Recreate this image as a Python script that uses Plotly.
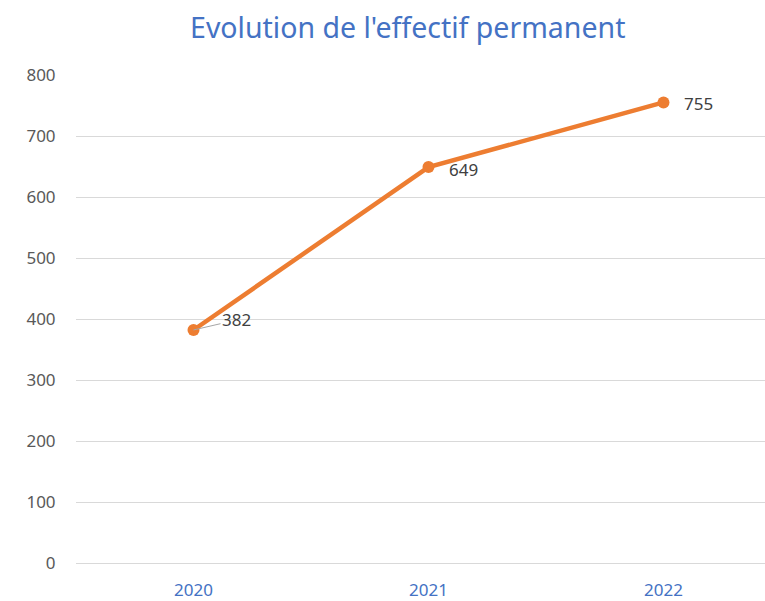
import plotly.graph_objects as go

years = ["2020", "2021", "2022"]
effectif = [382, 649, 755]
label_yshift = [10, -2, -1]

ORANGE = "#ED7D31"
BLUE = "#4472C4"
GREY_TXT = "#595959"
GRID = "#D9D9D9"

fig = go.Figure()

fig.add_trace(go.Scatter(
    x=years,
    y=effectif,
    mode="lines+markers",
    line=dict(color=ORANGE, width=4.5),
    marker=dict(color=ORANGE, size=12),
    showlegend=False,
    hoverinfo="skip",
))

# data labels to the right of each point (x given as category index)
for i, val in enumerate(effectif):
    if i == 0:
        # first label sits a bit higher, with a small leader line
        fig.add_annotation(
            x=i, y=val, text=str(val),
            showarrow=True, arrowhead=0, arrowwidth=1, arrowcolor="#A6A6A6",
            ax=43, ay=-10, xanchor="center", yanchor="middle",
            standoff=0, startstandoff=0,
            font=dict(size=17, color="#404040"),
        )
    else:
        fig.add_annotation(
            x=i, y=val, text=str(val),
            showarrow=False, xanchor="left", yanchor="middle",
            xshift=19, yshift=label_yshift[i],
            font=dict(size=17, color="#404040"),
        )

fig.update_layout(
    width=765,
    height=601,
    paper_bgcolor="white",
    plot_bgcolor="white",
    font=dict(family="Noto Sans, Liberation Sans, sans-serif"),
    title=dict(
        text="Evolution de l'effectif permanent",
        xref="container", x=0.533, xanchor="center",
        y=0.953, yanchor="middle",
        font=dict(size=28.5, color=BLUE),
    ),
    margin=dict(l=76, r=0, t=75, b=36),
)

fig.update_xaxes(
    type="category",
    range=[-0.5, 2.432],
    showgrid=False,
    showline=False,
    zeroline=False,
    ticks="outside",
    ticklen=12,
    tickcolor="rgba(0,0,0,0)",
    tickfont=dict(size=17, color=BLUE),
)

fig.update_yaxes(
    range=[0, 800],
    dtick=100,
    showgrid=True,
    gridcolor=GRID,
    gridwidth=1,
    zeroline=True,
    zerolinecolor=GRID,
    zerolinewidth=1,
    showline=False,
    ticks="outside",
    ticklen=16,
    tickcolor="rgba(0,0,0,0)",
    tickfont=dict(size=17, color=GREY_TXT),
)

fig.write_html(
    "out.html",
    config={"displayModeBar": False},
    post_script="document.body.style.margin='0';",
)
